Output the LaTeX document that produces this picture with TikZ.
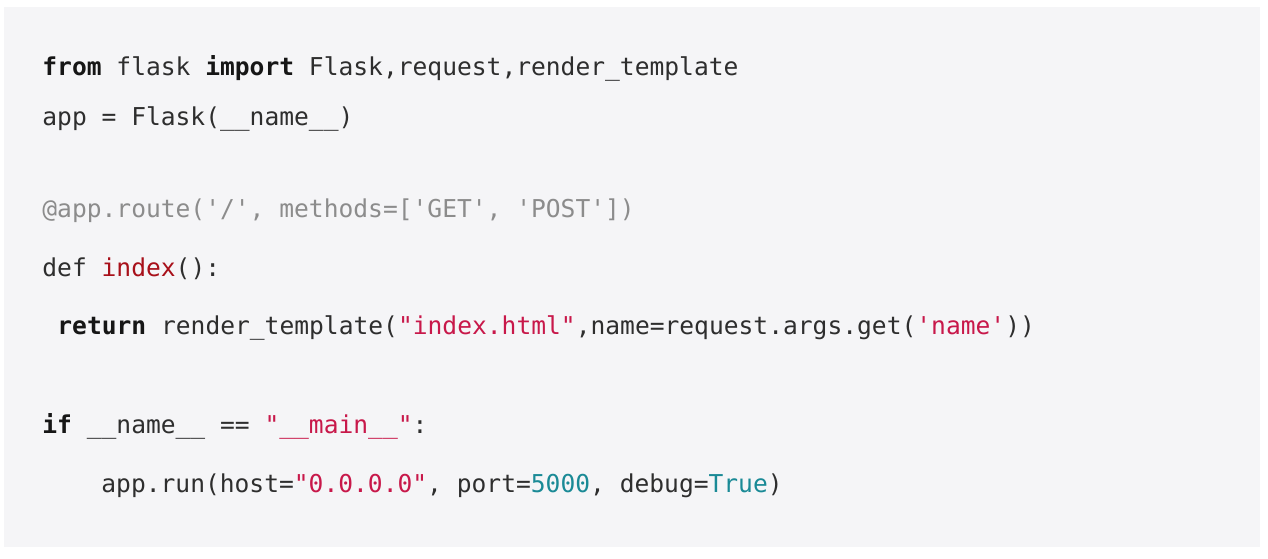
\documentclass[tikz,border=0pt]{standalone}
\usepackage{fontspec}
\setmonofont{DejaVu Sans Mono}
\usepackage{tikz}

\definecolor{codebg}{HTML}{F5F5F7}
\definecolor{codetext}{HTML}{2E2E2E}
\definecolor{kwcol}{HTML}{161616}
\definecolor{strcol}{HTML}{C8184A}
\definecolor{fncol}{HTML}{A8101A}
\definecolor{numcol}{HTML}{1A8A96}
\definecolor{decocol}{HTML}{8C8C8C}

\newcommand{\kw}[1]{{\bfseries\color{kwcol}#1}}
\newcommand{\str}[1]{{\color{strcol}#1}}
\newcommand{\fn}[1]{{\color{fncol}#1}}
\newcommand{\num}[1]{{\color{numcol}#1}}

\tikzset{codeline/.style={anchor=base west, inner sep=0pt, text=codetext,
  font=\ttfamily\fontsize{12.3}{14}\selectfont}}

\begin{document}
\begin{tikzpicture}[x=0.5pt, y=-0.5pt]
	\useasboundingbox (0,0) rectangle (1268,558);
	\fill[codebg] (4,7) rectangle (1260,547);
	\node[codeline] (imp) at (42,75) {\kw{from} flask \kw{import} Flask,request,render\_template};
	\node[codeline] (app) at (42,125) {app = Flask(\_\_name\_\_)};
		\node[codeline, text=decocol] (route) at (42,217) {@app.route('/', methods=['GET', 'POST'])};
		\node[codeline] (def) at (42,276) {def \fn{index}():};
			\node[codeline] (ret) at (57,334) {\kw{return} render\_template(\str{"index.html"},name=request.args.get(\str{'name'}))};
	\node[codeline] (main) at (42,433) {\kw{if} \_\_name\_\_ == \str{"\_\_main\_\_"}:};
			\node[codeline] (run) at (101,492) {app.run(host=\str{"0.0.0.0"}, port=\num{5000}, debug=\num{True})};
\end{tikzpicture}
\end{document}
